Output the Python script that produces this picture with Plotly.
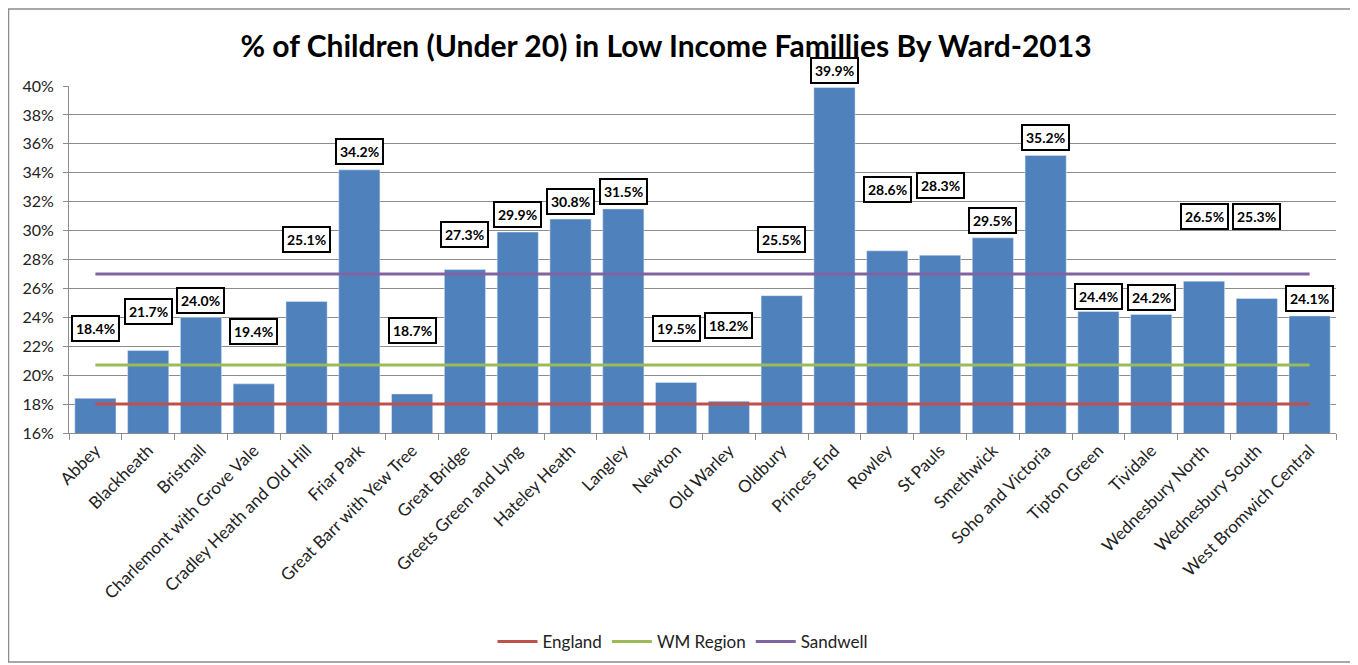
import plotly.graph_objects as go

wards = ["Abbey", "Blackheath", "Bristnall", "Charlemont with Grove Vale",
         "Cradley Heath and Old Hill", "Friar Park", "Great Barr with Yew Tree",
         "Great Bridge", "Greets Green and Lyng", "Hateley Heath", "Langley",
         "Newton", "Old Warley", "Oldbury", "Princes End", "Rowley", "St Pauls",
         "Smethwick", "Soho and Victoria", "Tipton Green", "Tividale",
         "Wednesbury North", "Wednesbury South", "West Bromwich Central"]
ward_pct = [18.4, 21.7, 24.0, 19.4, 25.1, 34.2, 18.7, 27.3, 29.9, 30.8, 31.5,
            19.5, 18.2, 25.5, 39.9, 28.6, 28.3, 29.5, 35.2, 24.4, 24.2, 26.5,
            25.3, 24.1]
england_pct = 18.0
wm_region_pct = 20.7
sandwell_pct = 27.0

y_min, y_max = 16, 40

# where each (manually moved) data label box sits, in axis units
label_pos = [23.23, 24.41, 25.17, 23.02, 29.4, 35.45, 23.09, 29.75, 31.14,
             32.04, 32.73, 23.23, 23.44, 29.4, 41.06, 32.87, 33.15, 30.72,
             36.41, 25.45, 25.38, 31.0, 31.0, 25.31]

FONT = "Lato, 'Open Sans', sans-serif"
OFF = 8  # page body margin offset of the figure on screen
W, H = 1358 - OFF, 665 - OFF
L = 69 - OFF
R = W - (1336 - OFF)
T = 86 - OFF
B = H - (433 - OFF)
pw, ph = W - L - R, H - T - B


def sx(px):  # screen x -> paper x
    return (px - OFF - L) / pw


def sy(py):  # screen y -> paper y
    return (H - B - (py - OFF)) / ph


fig = go.Figure()
fig.add_trace(go.Bar(x=wards, y=ward_pct, marker_color="#4F81BD",
                     showlegend=False, hoverinfo="x+y"))
for name, val, col in [("England", england_pct, "#C0504D"),
                       ("WM Region", wm_region_pct, "#9BBB59"),
                       ("Sandwell", sandwell_pct, "#8064A2")]:
    fig.add_trace(go.Scatter(x=wards, y=[val] * len(wards), mode="lines",
                             name=name, line=dict(color=col, width=3)))

for w, v, p in zip(wards, ward_pct, label_pos):
    fig.add_annotation(x=w, y=(p - y_min) / (y_max - y_min), yref="paper",
                       xanchor="center", yanchor="middle",
                       text=f"<b>{v:.1f}%</b>", showarrow=False,
                       font=dict(family=FONT, size=14, color="black"),
                       bgcolor="white", bordercolor="black", borderwidth=2,
                       borderpad=3)

fig.add_shape(type="rect", xref="paper", yref="paper",
              x0=sx(8.5), x1=sx(1352), y0=sy(662), y1=sy(9),
              line=dict(color="#8c8c8c", width=1.5), layer="below")

fig.update_layout(
    width=W, height=H,
    margin=dict(l=L, r=R, t=T, b=B, autoexpand=False),
    paper_bgcolor="white", plot_bgcolor="white",
    title=dict(text="<b>% of Children (Under 20) in Low Income Famillies By Ward-2013</b>",
               x=(666 - OFF) / W, xanchor="center",
               y=1 - (46 - OFF) / H, yanchor="middle",
               font=dict(family=FONT, size=30, color="black")),
    bargap=0.22,
    font=dict(family=FONT, color="#222"),
    legend=dict(orientation="h", x=sx(683), xanchor="center",
                y=sy(642), yanchor="middle",
                font=dict(family=FONT, size=17, color="#222"),
                itemwidth=40),
)
fig.update_yaxes(range=[y_min, y_max], dtick=2, ticksuffix="%",
                 showgrid=True, gridcolor="#8c8c8c", gridwidth=1,
                 showline=True, linecolor="#8c8c8c", ticks="outside",
                 ticklen=5, tickcolor="#8c8c8c", automargin=False,
                 ticklabelstandoff=6,
                 tickfont=dict(family=FONT, size=16, color="#222"),
                 zeroline=False)
fig.update_xaxes(tickangle=-45, showline=True, linecolor="#8c8c8c",
                 ticks="outside", tickson="boundaries", ticklen=6,
                 tickcolor="#8c8c8c", automargin=False,
                 tickfont=dict(family=FONT, size=17, color="#222"))

fig.write_html("out.html")
